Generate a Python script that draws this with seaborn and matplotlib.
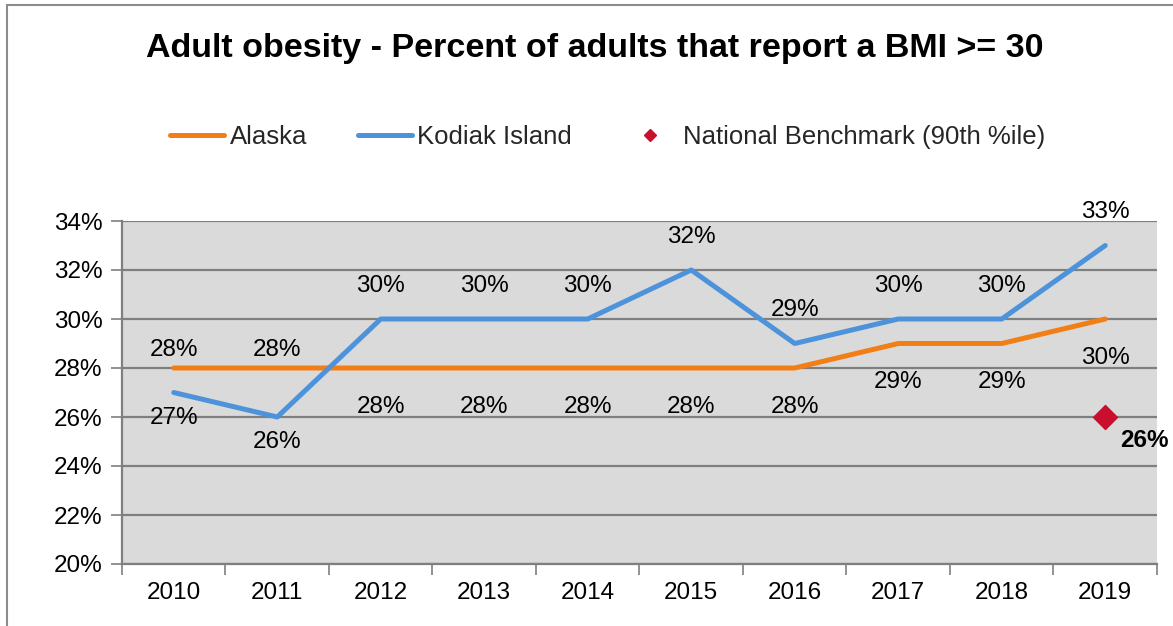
import matplotlib
matplotlib.use("Agg")
import matplotlib.pyplot as plt
from matplotlib.lines import Line2D
from matplotlib.ticker import FixedLocator, FuncFormatter
import seaborn as sns
import pandas as pd

# Data
years = [2010, 2011, 2012, 2013, 2014, 2015, 2016, 2017, 2018, 2019]
alaska = [28, 28, 28, 28, 28, 28, 28, 29, 29, 30]
kodiak = [27, 26, 30, 30, 30, 32, 29, 30, 30, 33]
benchmark_year = [2019]
benchmark_value = [26]

series_names = ["Alaska", "Kodiak Island"]
benchmark_name = "National Benchmark (90th %ile)"
title = "Adult obesity - Percent of adults that report a BMI >= 30"
y_ticks = [20, 22, 24, 26, 28, 30, 32, 34]

# Label placement: +1 above the point, -1 below
alaska_side = [1, 1, -1, -1, -1, -1, -1, -1, -1, -1]
kodiak_side = [-1, -1, 1, 1, 1, 1, 1, 1, 1, 1]

df = pd.DataFrame({
    "year": years * 2,
    "value": alaska + kodiak,
    "series": [series_names[0]] * len(years) + [series_names[1]] * len(years),
})
bench_df = pd.DataFrame({"year": benchmark_year, "value": benchmark_value})

sns.set_theme(style="white")
plt.rcParams["font.family"] = ["Liberation Sans", "DejaVu Sans"]

ORANGE = "#F27E16"
BLUE = "#4C93DB"
CRIMSON = "#C8102E"
GRID = "#7F7F7F"

TICK_FS = 17.5
LABEL_FS = 17.5
LEGEND_FS = 18.5

fig = plt.figure(figsize=(11.73, 6.26), dpi=100)
fig.patch.set_facecolor("white")
ax = fig.add_axes([122 / 1173, 1 - 564 / 626, (1157 - 122) / 1173, (564 - 221) / 626])
ax.set_facecolor("#DADADA")

palette = {series_names[0]: ORANGE, series_names[1]: BLUE}
sns.lineplot(data=df, x="year", y="value", hue="series", palette=palette,
             linewidth=3.6, ax=ax, legend=False, zorder=3)
sns.scatterplot(data=bench_df, x="year", y="value", marker="D", s=150,
                color=CRIMSON, edgecolor=CRIMSON, ax=ax, legend=False, zorder=4)

ax.set_xlim(years[0] - 0.5, years[-1] + 0.5)
ax.set_ylim(y_ticks[0], y_ticks[-1])
ax.set_yticks(y_ticks)
ax.yaxis.set_major_formatter(FuncFormatter(lambda v, p: f"{v:.0f}%"))
ax.set_xticks(years)
ax.set_xticklabels([str(y) for y in years])
ax.xaxis.set_minor_locator(FixedLocator([y - 0.5 for y in years] + [years[-1] + 0.5]))
ax.tick_params(axis="x", which="major", length=0, pad=13, labelsize=TICK_FS, colors="black")
ax.tick_params(axis="x", which="minor", length=8, width=1.2, color=GRID, direction="out", bottom=True)
ax.tick_params(axis="y", which="major", length=8, width=1.2, color=GRID, direction="out",
               left=True, pad=6, labelsize=TICK_FS, colors="black")
ax.set_xlabel("")
ax.set_ylabel("")

ax.grid(axis="y", color=GRID, linewidth=1.6, zorder=1)
ax.set_axisbelow(True)
for name, sp in ax.spines.items():
    sp.set_visible(name in ("left", "bottom"))
    sp.set_color(GRID)
    sp.set_linewidth(1.6)

# Value labels
for x, v, s in zip(years, alaska, alaska_side):
    off = 13 if s > 0 else -28
    ax.annotate(f"{v}%", (x, v), xytext=(0, off), textcoords="offset points",
                ha="center", va="center", fontsize=LABEL_FS, color="black", zorder=5)
for x, v, s in zip(years, kodiak, kodiak_side):
    off = 24 if s > 0 else -18
    ax.annotate(f"{v}%", (x, v), xytext=(0, off), textcoords="offset points",
                ha="center", va="center", fontsize=LABEL_FS, color="black", zorder=5)
for x, v in zip(benchmark_year, benchmark_value):
    ax.annotate(f"{v}%", (x, v), xytext=(11, -17), textcoords="offset points",
                ha="left", va="center", fontsize=LABEL_FS, fontweight="bold",
                color="black", zorder=5, annotation_clip=False)

# Title and legend
fig.text(0.507, 1 - 48 / 626, title, ha="center", va="center",
         fontsize=24.5, fontweight="bold", color="black")

handles = [
    Line2D([], [], color=ORANGE, linewidth=3.6),
    Line2D([], [], color=BLUE, linewidth=3.6),
    Line2D([], [], color=CRIMSON, marker="D", linestyle="none", markersize=6),
]
fig.legend(handles, series_names + [benchmark_name], loc="center",
           bbox_to_anchor=(0.518, 1 - 137 / 626), ncol=3, frameon=False,
           fontsize=LEGEND_FS, handlelength=2.1, handletextpad=0.2, columnspacing=2.0)

# Chart frame
fig.add_artist(Line2D([7 / 1173, 7 / 1173], [0, 1 - 5 / 626], transform=fig.transFigure,
                      color="#8C8C8C", linewidth=1.5))
fig.add_artist(Line2D([7 / 1173, 1], [1 - 5 / 626, 1 - 5 / 626], transform=fig.transFigure,
                      color="#8C8C8C", linewidth=1.5))

fig.savefig("out.png", dpi=100, facecolor="white")
